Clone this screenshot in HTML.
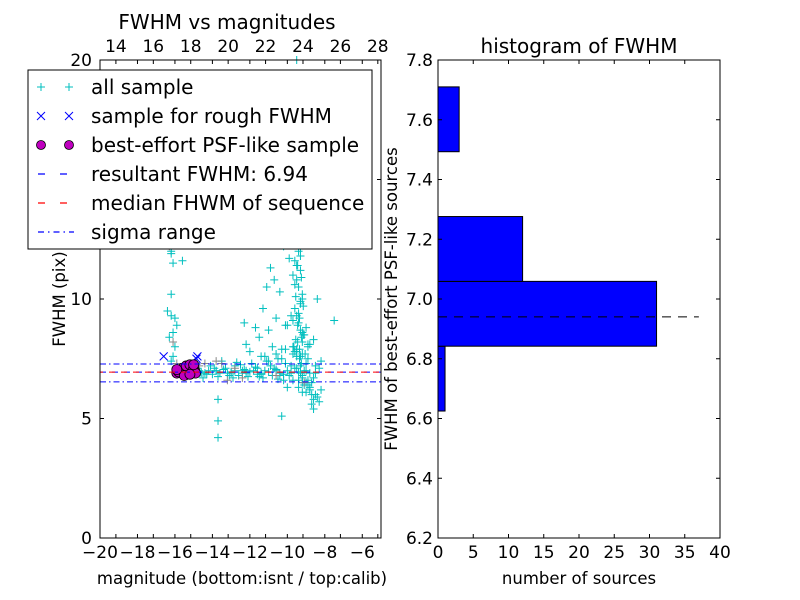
<!DOCTYPE html>
<html><head><meta charset="utf-8"><style>
body{margin:0;background:#fff;}
svg{display:block;font-family:"DejaVu Sans","Liberation Sans",sans-serif;}
</style></head><body>
<svg id="fig" width="800" height="600" viewBox="0 0 800 600">
<rect x="0" y="0" width="800" height="600" fill="#fff"/>
<g id="left"></g>
<g id="right"></g>
</svg>
<script>
// ---- scatter data ----
const allMag = [-16.3,-16.2,-16.1,-16.2,-15.6,-16.4,-16.2,-16.1,-16.3,-16.0,-16.1,-16.2,-15.9,-16.0,-16.2,-15.5,-15.4,
 -15.2,-15.0,-14.8,-14.6,-14.4,-14.2,-14.0,-13.8,-13.6,-13.4,-13.2,-13.0,-12.8,-12.6,-12.4,-12.2,-12.0,-11.8,-11.6,-11.4,-11.2,-11.0,-10.8,-10.6,-10.4,-10.2,-10.0,-9.8,-9.6,-9.4,-9.2,-9.0,-8.8,-8.6,
 -14.9,-14.5,-14.1,-13.7,-13.3,-12.9,-12.5,-12.1,-11.7,-11.3,-10.9,-10.5,-10.1,-9.7,-9.3,-8.9,-8.7,-13.5,-12.7,-11.9,-11.1,-10.3,-9.5,-9.1,
 -14.7,-14.3,-13.9,-13.1,-12.3,-11.5,-10.7,-9.9,-9.0,-8.5,-14.6,-13.8,-13.0,-12.2,-11.4,-10.6,-9.8,-9.2,-8.8,-12.8,-11.0,-10.2,-9.6,-9.4,-8.9,-9.1,-9.7,-10.4,-11.6,-12.4,
 -13.7,-13.7,-13.7,-10.3,-8.5,-8.3,-8.6,-8.8,-9.0,-8.4,-8.2,-8.7,-9.2,-10.0,
 -9.5,-9.4,-9.3,-9.6,-9.5,-9.4,-9.2,-9.3,-9.5,-9.6,-9.4,-9.3,-9.5,-9.2,-9.4,-9.6,-9.3,-9.5,-9.4,-9.2,-9.3,-9.6,-9.5,-9.4,-9.3,-9.1,-9.2,-9.7,-9.5,-9.3,
 -9.4,-9.0,-9.8,-9.1,-9.3,-9.6,-9.2,-9.4,-9.0,-8.9,-9.5,-9.2,-9.3,-9.7,-9.1,-9.4,
 -9.35,-9.45,-9.25,-9.55,-9.15,-9.35,-9.45,-9.25,-9.55,-9.05,-9.35,-9.45,-9.15,-9.65,-9.25,-9.35,-9.5,-9.3,-9.2,-9.4,
 -12.3,-11.5,-11.0,-10.6,-10.3,-10.8,-11.2,-10.1,-10.4,-8.4,-7.5,-8.6,-8.2,-12.0,-11.7,-10.7,-10.9,-10.2,-11.3,-8.5,-8.3,-8.8,-10.5,-11.1,-12.2,-9.9,-9.8,-10.0,
 -9.4,-9.6,-9.0,-9.3,-9.5,-8.9,-9.2,-9.7,-10.6,-10.1,-11.4,-8.7,-8.6,-8.9,-9.0];
const allFwhm = [12.5,11.9,11.5,10.2,11.6,9.5,9.3,8.6,8.4,8.0,7.6,7.4,8.9,9.2,12.0,7.2,7.1,
 7.0,6.9,7.1,6.95,6.9,7.0,6.85,7.0,6.9,7.05,6.9,6.95,7.0,6.8,7.0,6.9,6.95,7.0,6.85,6.9,7.0,6.95,6.8,7.0,6.9,6.85,7.0,6.9,7.1,6.95,6.8,7.0,6.9,6.7,
 7.3,6.7,7.2,6.75,7.1,6.7,7.25,6.75,7.15,6.7,7.2,6.65,7.3,6.6,7.2,6.6,6.5,7.4,7.35,7.3,7.4,7.5,7.6,6.4,
 7.0,6.85,7.1,6.8,7.05,6.75,7.1,6.8,7.3,6.9,6.9,7.0,6.9,7.0,6.85,7.05,7.2,6.5,6.2,7.2,7.4,6.6,7.8,6.3,7.5,7.0,7.7,6.8,7.1,6.9,
 5.8,4.9,4.2,5.1,6.0,5.7,5.4,6.3,6.5,5.9,6.2,5.6,6.1,6.3,
 20,19,18.5,17.8,17.0,16.3,15.8,15.1,14.5,14.0,13.6,13.2,12.8,12.4,12.0,11.6,11.2,10.8,10.5,10.2,9.9,9.6,9.3,9.0,8.7,8.5,8.2,8.0,7.8,7.6,
 16.8,15.5,14.2,13.0,11.8,10.6,10.0,9.4,8.8,8.1,7.9,8.6,9.8,11.0,12.6,13.4,
 12.3,11.4,10.9,10.1,9.7,9.2,8.9,8.4,8.3,7.7,7.9,8.2,8.5,8.0,7.3,7.5,7.1,6.9,6.7,6.6,
 9.0,8.4,8.7,9.2,7.9,8.0,7.6,8.9,10.3,10.0,9.1,8.3,7.4,7.8,8.8,10.8,11.3,12.2,9.6,7.2,7.1,8.1,7.5,10.5,8.1,11.7,9.3,8.9,
 18.2,17.2,13.9,12.1,11.4,8.0,7.7,9.1,7.7,7.9,7.6,6.0,5.8,6.4,6.1];
const greyMag = [-16.3,-16.1,-15.9,-14.7,-14.4,-13.8,-13.5,-13.2,-12.8,-12.4,-10.6,-9.1];
const greyFwhm = [12.2,8.2,7.3,7.2,7.3,7.4,7.3,6.6,7.1,6.7,6.8,6.5];
const roughMag = [-16.6,-14.8,-14.85];
const roughFwhm = [7.6,7.6,7.5];
const bestMag = [-15.9,-15.7,-15.5,-15.3,-15.1,-14.95,-15.8,-15.6,-15.4,-15.2,-15.0,-14.9,-15.5,-15.2,-15.9,-15.0];
const bestFwhm = [6.9,7.0,6.85,7.05,6.9,7.0,6.95,7.1,7.2,7.25,7.1,6.9,6.8,6.85,7.05,7.25];
const resultFwhm = 6.94, medianFwhm = 6.94, sigLo = 6.53, sigHi = 7.28;
const xTicks = [-20,-18,-16,-14,-12,-10,-8,-6];
const topTicks = [14,16,18,20,22,24,26,28];
const yTicks = [0,5,10,15,20];
// ---- histogram data ----
const binEdges = [6.625,6.842,7.059,7.276,7.493,7.71];
const binCounts = [1,31,12,0,3];
const histYTicks = [6.2,6.4,6.6,6.8,7.0,7.2,7.4,7.6,7.8];
const histXTicks = [0,5,10,15,20,25,30,35,40];

const NS="http://www.w3.org/2000/svg";
function mk(parent,tag,attrs,text){const e=document.createElementNS(NS,tag);for(const k in attrs)e.setAttribute(k,attrs[k]);if(text!==undefined)e.textContent=text;parent.appendChild(e);return e;}

const FT=17, FA=16.5, FTitle=20, FL=20;
// Left axes
const L={x0:100,x1:381,y0:60,y1:538};
const lx=m=>L.x0+(m+20)/15*(L.x1-L.x0);
const ly=f=>L.y1-f/20*(L.y1-L.y0);
const tx=c=>L.x0+(c-13.15)/(28.17-13.15)*(L.x1-L.x0);
const left=document.getElementById('left');
function plus(g,x,y,c){mk(g,'path',{d:`M${x-4},${y}h8M${x},${y-4}v8`,stroke:c,'stroke-width':1,fill:'none'});}
const gAll=mk(left,'g',{});

for(let i=0;i<allMag.length;i++)plus(gAll,lx(allMag[i]),ly(allFwhm[i]),'#00bfbf');
const gGrey=mk(left,'g',{});

for(let i=0;i<greyMag.length;i++)plus(gGrey,lx(greyMag[i]),ly(greyFwhm[i]),'#888');
const gR=mk(left,'g',{});

for(let i=0;i<roughMag.length;i++){const x=lx(roughMag[i]),y=ly(roughFwhm[i]);mk(gR,'path',{d:`M${x-4},${y-4}l8,8M${x-4},${y+4}l8,-8`,stroke:'#0000ff','stroke-width':1});}
const gB=mk(left,'g',{});

for(let i=0;i<bestMag.length;i++)mk(gB,'circle',{cx:lx(bestMag[i]),cy:ly(bestFwhm[i]),r:5,fill:'#bf00bf',stroke:'#000','stroke-width':0.8});
let ln=mk(left,'line',{x1:L.x0,x2:L.x1,y1:ly(sigHi),y2:ly(sigHi),stroke:'#0000ff','stroke-dasharray':'6,3,1.5,3'});

ln=mk(left,'line',{x1:L.x0,x2:L.x1,y1:ly(sigLo),y2:ly(sigLo),stroke:'#0000ff','stroke-dasharray':'6,3,1.5,3'});

ln=mk(left,'line',{x1:L.x0,x2:L.x1,y1:ly(resultFwhm),y2:ly(resultFwhm),stroke:'#0000ff','stroke-dasharray':'6,6'});

ln=mk(left,'line',{x1:L.x0,x2:L.x1,y1:ly(medianFwhm),y2:ly(medianFwhm),stroke:'#ff0000','stroke-dasharray':'6,6','stroke-dashoffset':3});

mk(left,'rect',{x:L.x0,y:L.y0,width:L.x1-L.x0,height:L.y1-L.y0,fill:'none',stroke:'#000'});
for(const t of xTicks){const x=lx(t);mk(left,'path',{d:`M${x},${L.y1}v-4M${x},${L.y0}v4`,stroke:'#000'});
 const e=mk(left,'text',{x:x,y:L.y1+20,'text-anchor':'middle','font-size':FT},(t<0?'\u2212':'')+Math.abs(t));}
for(const t of topTicks){const x=tx(t);mk(left,'path',{d:`M${x},${L.y0}v4M${x},${L.y1}v-4`,stroke:'#000'});
 const e=mk(left,'text',{x:x,y:L.y0-8,'text-anchor':'middle','font-size':FT},t);}
for(const t of yTicks){const y=ly(t);mk(left,'path',{d:`M${L.x0},${y}h4M${L.x1},${y}h-4`,stroke:'#000'});
 const e=mk(left,'text',{x:L.x0-8,y:y+6,'text-anchor':'end','font-size':FT},t);}
let t=mk(left,'text',{x:227,y:29,'text-anchor':'middle','font-size':FTitle},'FWHM vs magnitudes');
t=mk(left,'text',{x:242,y:584,'text-anchor':'middle','font-size':FA},'magnitude (bottom:isnt / top:calib)');
t=mk(left,'text',{x:65,y:299,'text-anchor':'middle','font-size':FA,transform:'rotate(-90 65 299)'},'FWHM (pix)');
// legend
const lg=mk(left,'g',{});

mk(lg,'rect',{x:28,y:70,width:344,height:179,fill:'#fff',stroke:'#000'});
const labels=['all sample','sample for rough FWHM','best-effort PSF-like sample','resultant FWHM: 6.94','median FHWM of sequence','sigma range'];
labels.forEach((s,i)=>{const y=87+i*29;
 if(i==0){plus(lg,41,y,'#00bfbf');plus(lg,69,y,'#00bfbf');}
 if(i==1){[41,69].forEach(x=>mk(lg,'path',{d:`M${x-4},${y-4}l8,8M${x-4},${y+4}l8,-8`,stroke:'#0000ff'}));}
 if(i==2){[41,69].forEach(x=>mk(lg,'circle',{cx:x,cy:y,r:4.5,fill:'#bf00bf',stroke:'#000','stroke-width':0.8}));}
 if(i==3)mk(lg,'line',{x1:38,x2:74,y1:y,y2:y,stroke:'#0000ff','stroke-width':1.3,'stroke-dasharray':'7,15'});
 if(i==4)mk(lg,'line',{x1:38,x2:74,y1:y,y2:y,stroke:'#ff0000','stroke-width':1.3,'stroke-dasharray':'7,15'});
 if(i==5)mk(lg,'line',{x1:38,x2:74,y1:y,y2:y,stroke:'#0000ff','stroke-width':1.3,'stroke-dasharray':'6,4,1.5,4'});
 const e=mk(lg,'text',{x:91,y:y+7,'font-size':FL},s);});

// Right axes
const R={x0:438,x1:720,y0:60,y1:538};
const hx=c=>R.x0+c/40*(R.x1-R.x0);
const hy=v=>R.y1-(v-6.2)/1.6*(R.y1-R.y0);
const right=document.getElementById('right');
for(let i=0;i<binCounts.length;i++){if(!binCounts[i])continue;
 const r=mk(right,'rect',{x:hx(0),y:hy(binEdges[i+1]),width:hx(binCounts[i])-hx(0),height:hy(binEdges[i])-hy(binEdges[i+1]),fill:'#0000ff',stroke:'#000'});
 }
ln=mk(right,'line',{x1:hx(0),x2:hx(37),y1:hy(resultFwhm),y2:hy(resultFwhm),stroke:'#000','stroke-dasharray':'9,7'});

mk(right,'rect',{x:R.x0,y:R.y0,width:R.x1-R.x0,height:R.y1-R.y0,fill:'none',stroke:'#000'});
for(const v of histXTicks){const x=hx(v);mk(right,'path',{d:`M${x},${R.y1}v-4M${x},${R.y0}v4`,stroke:'#000'});
 const e=mk(right,'text',{x:x,y:R.y1+20,'text-anchor':'middle','font-size':FT},v);}
for(const v of histYTicks){const y=hy(v);mk(right,'path',{d:`M${R.x0},${y}h4M${R.x1},${y}h-4`,stroke:'#000'});
 const e=mk(right,'text',{x:R.x0-5,y:y+6,'text-anchor':'end','font-size':FT},v.toFixed(1));}
t=mk(right,'text',{x:579,y:53,'text-anchor':'middle','font-size':FTitle},'histogram of FWHM');
t=mk(right,'text',{x:579,y:584,'text-anchor':'middle','font-size':FA},'number of sources');
t=mk(right,'text',{x:397,y:299,'text-anchor':'middle','font-size':FA,transform:'rotate(-90 397 299)'},'FWHM of best-effort PSF-like sources');
</script>
</body></html>
